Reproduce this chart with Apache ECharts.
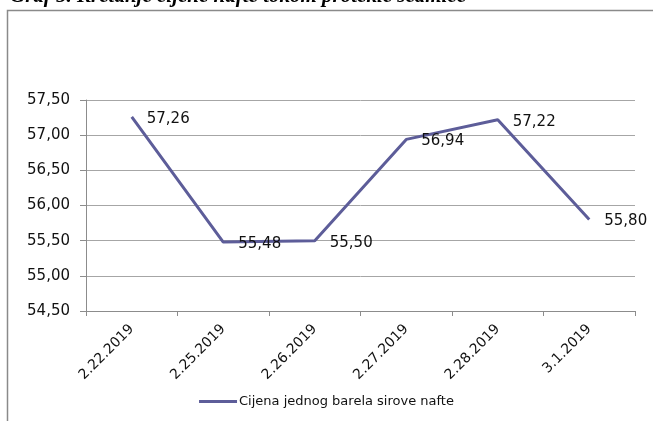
<!DOCTYPE html>
<html>
<head>
<meta charset="utf-8">
<script src="https://cdn.jsdelivr.net/npm/echarts@6/dist/echarts.min.js"></script>
<style>
  html, body { margin: 0; padding: 0; background: #fff; }
  #chart { width: 653px; height: 421px; }
</style>
</head>
<body>
<div id="chart"></div>
<script>
// data
const dates = ['2.22.2019', '2.25.2019', '2.26.2019', '2.27.2019', '2.28.2019', '3.1.2019'];
const prices = [57.26, 55.48, 55.50, 56.94, 57.22, 55.80];
const seriesName = 'Cijena jednog barela sirove nafte';
const chartTitle = 'Graf 5. Kretanje cijene nafte tokom protekle sedmice';

const fmt = (v) => v.toFixed(2).replace('.', ',');
const font = 'DejaVu Sans';

let chart = echarts.init(document.getElementById('chart'));
let option = {
  animation: false,
  backgroundColor: '#fff',
  graphic: [
    {
      type: 'rect',
      shape: { x: 7.5, y: 10.5, width: 700, height: 500 },
      style: { fill: 'none', stroke: '#8a8a8a', lineWidth: 1.5 },
      silent: true
    },
    {
      type: 'text',
      style: {
        x: 10, y: 7.5,
        text: chartTitle,
        fill: '#000',
        font: 'italic bold 21px "Liberation Serif"',
        verticalAlign: 'bottom'
      },
      silent: true
    }
  ],
  grid: { left: 86, right: 18, top: 100, bottom: 110 },
  legend: {
    bottom: 8,
    left: 'center',
    icon: 'rect',
    itemWidth: 38,
    itemHeight: 3,
    itemGap: 2,
    textStyle: { fontFamily: font, fontSize: 13, color: '#111', padding: [0, 0, 0, -3] },
    data: [seriesName]
  },
  xAxis: {
    type: 'category',
    data: dates,
    boundaryGap: true,
    axisLine: { lineStyle: { color: '#8c8c8c' } },
    axisTick: { show: true, length: 5, lineStyle: { color: '#8c8c8c' } },
    axisLabel: { rotate: 45, margin: 16, fontFamily: font, fontSize: 14, color: '#111', interval: 0 }
  },
  yAxis: {
    type: 'value',
    min: 54.5,
    max: 57.5,
    interval: 0.5,
    axisLine: { show: true, lineStyle: { color: '#8c8c8c' } },
    axisTick: { show: true, length: 6, lineStyle: { color: '#8c8c8c' } },
    splitLine: { lineStyle: { color: '#a6a6a6' } },
    axisLabel: { margin: 16, fontFamily: font, fontSize: 15, color: '#111', formatter: fmt }
  },
  series: [
    {
      name: seriesName,
      type: 'line',
      data: prices,
      color: '#5d5d99',
      symbol: 'circle',
      symbolSize: 0,
      lineStyle: { width: 3, color: '#5d5d99' },
      label: {
        show: true,
        position: 'right',
        distance: 15,
        offset: [0, 2],
        fontFamily: font,
        fontSize: 15,
        color: '#111',
        formatter: (p) => fmt(p.value)
      }
    }
  ]
};
chart.setOption(option);
</script>
</body>
</html>
